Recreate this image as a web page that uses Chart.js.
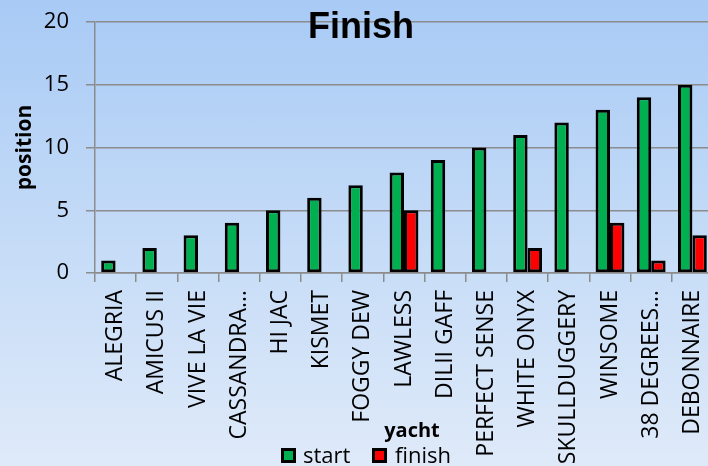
<!DOCTYPE html>
<html><head><meta charset="utf-8">
<script src="https://cdn.jsdelivr.net/npm/chart.js@4"></script>
<style>
html,body{margin:0;padding:0;width:708px;height:466px;overflow:hidden;background:linear-gradient(to bottom,#a8caf5 0%,#c4dbf7 50%,#dfeaf9 100%);}
#wrap{position:absolute;left:0;top:0;width:713px;height:466px;}
</style></head><body><div id="wrap"><canvas id="c"></canvas></div>
<script>
const chartTitle = "Finish";
const xAxisTitle = "yacht";
const yAxisTitle = "position";
const yachts = ["ALEGRIA","AMICUS II","VIVE LA VIE","CASSANDRA…","HI JAC","KISMET","FOGGY DEW","LAWLESS","DILII GAFF","PERFECT SENSE","WHITE ONYX","SKULLDUGGERY","WINSOME","38 DEGREES…","DEBONNAIRE"];
const startPos = [1,2,3,4,5,6,7,8,9,10,11,12,13,14,15];
const finishPos = [null,null,null,null,null,null,null,5,null,null,2,null,4,1,3];
const yMin = 0, yMax = 20, yStep = 5;

const overlay = {
  id: 'overlay',
  afterDraw(chart) {
    const ctx = chart.ctx;
    ctx.save();
    ctx.fillStyle = '#000';
    ctx.textAlign = 'center';
    ctx.textBaseline = 'alphabetic';
    ctx.font = 'bold 36px "Liberation Sans", Arial, sans-serif';
    ctx.fillText(chartTitle, 361, 38);
    ctx.font = 'bold 20px "Open Sans", sans-serif';
    ctx.fillText(xAxisTitle, 412, 437);
    const items = [{x: 281, tx: 303}, {x: 372, tx: 395}];
    ctx.textAlign = 'left';
    ctx.font = '22px "Open Sans", sans-serif';
    chart.data.datasets.forEach((ds, i) => {
      const it = items[i];
      ctx.fillStyle = '#000';
      ctx.fillRect(it.x, 448, 15, 15);
      ctx.fillStyle = ds.backgroundColor;
      ctx.fillRect(it.x + 3, 451, 9, 9);
      ctx.fillStyle = '#000';
      ctx.fillText(ds.label, it.tx, 463);
    });
    ctx.restore();
  }
};

new Chart(document.getElementById('c'), {
  type: 'bar',
  data: {
    labels: yachts,
    datasets: [
      {label: 'start', data: startPos, backgroundColor: '#00b050', borderColor: '#000', borderWidth: 3, borderSkipped: false},
      {label: 'finish', data: finishPos, backgroundColor: '#ff0000', borderColor: '#000', borderWidth: 3, borderSkipped: false}
    ]
  },
  options: {
    responsive: true,
    maintainAspectRatio: false,
    animation: false,
    datasets: {bar: {categoryPercentage: 0.7, barPercentage: 1}},
    layout: {padding: {top: 22, left: 0, right: 0, bottom: 0}},
    plugins: {legend: {display: false}, title: {display: false}, tooltip: {enabled: false}},
    scales: {
      x: {
        grid: {display: true, drawOnChartArea: false, offset: true, color: '#8c8c8c', lineWidth: 1.5, tickLength: 9},
        border: {color: '#8c8c8c', width: 1.5},
        ticks: {autoSkip: false, minRotation: 90, maxRotation: 90, color: '#000', padding: 8, font: {family: '"Open Sans", sans-serif', size: 23}},
        afterFit: s => { s.height = 193; s.paddingTop = 0; s.paddingBottom = 0; s.paddingLeft = 0; s.paddingRight = 0; }
      },
      y: {
        min: yMin, max: yMax,
        grid: {color: '#8c8c8c', lineWidth: 1.5, tickLength: 9},
        border: {color: '#8c8c8c', width: 1.5},
        ticks: {stepSize: yStep, color: '#000', padding: 17, font: {family: '"Open Sans", sans-serif', size: 22}},
        title: {display: true, text: yAxisTitle, color: '#000', padding: {top: 12, bottom: 0}, font: {family: '"Open Sans", sans-serif', size: 21, weight: 'bold'}},
        afterFit: s => { s.width = 95; s.paddingTop = 0; s.paddingBottom = 0; }
      }
    }
  },
  plugins: [overlay]
});
</script></body></html>
